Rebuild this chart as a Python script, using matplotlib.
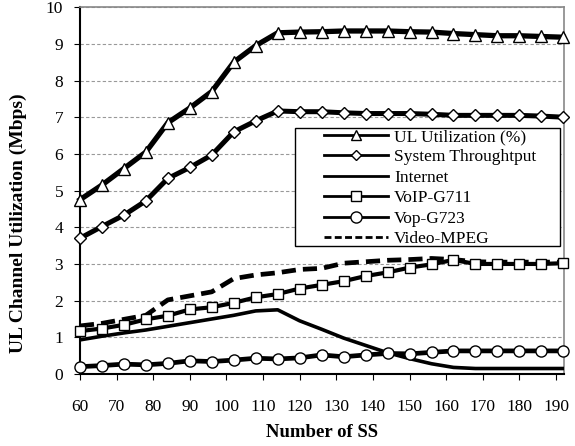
import matplotlib
matplotlib.use("Agg")
from matplotlib import pyplot as plt
from matplotlib.lines import Line2D
from matplotlib.patches import Rectangle

numSS = [60, 66, 72, 78, 84, 90, 96, 102, 108, 114, 120, 126,
         132, 138, 144, 150, 156, 162, 168, 174, 180, 186, 192]

ulUtilization = [4.75, 5.15, 5.6, 6.05, 6.85, 7.25, 7.7, 8.5, 8.95, 9.3, 9.32, 9.33,
                 9.35, 9.35, 9.35, 9.33, 9.32, 9.28, 9.25, 9.22, 9.22, 9.2, 9.18]
systemThroughput = [3.7, 4.02, 4.33, 4.72, 5.33, 5.63, 5.97, 6.6, 6.9, 7.17, 7.15, 7.15,
                    7.12, 7.1, 7.1, 7.1, 7.08, 7.05, 7.05, 7.05, 7.05, 7.03, 7.0]
internet = [0.93, 1.03, 1.12, 1.2, 1.3, 1.4, 1.5, 1.6, 1.72, 1.75, 1.45, 1.22,
            0.98, 0.78, 0.58, 0.42, 0.28, 0.18, 0.15, 0.15, 0.15, 0.15, 0.15]
voipG711 = [1.17, 1.24, 1.34, 1.49, 1.59, 1.76, 1.82, 1.94, 2.09, 2.18, 2.33, 2.43,
            2.53, 2.67, 2.77, 2.9, 2.99, 3.11, 3.0, 3.0, 3.0, 3.0, 3.02]
vopG723 = [0.2, 0.23, 0.27, 0.25, 0.29, 0.36, 0.34, 0.38, 0.43, 0.41, 0.44, 0.52,
           0.47, 0.52, 0.56, 0.55, 0.59, 0.63, 0.63, 0.63, 0.63, 0.63, 0.63]
videoMPEG = [1.31, 1.38, 1.49, 1.6, 2.02, 2.13, 2.24, 2.6, 2.7, 2.76, 2.85, 2.88,
             3.02, 3.06, 3.1, 3.12, 3.15, 3.12, 3.06, 3.05, 3.05, 3.05, 3.05]

labels = ['UL Utilization (%)', 'System Throughtput', 'Internet',
          'VoIP-G711', 'Vop-G723', 'Video-MPEG']

plt.rcParams['font.family'] = ['Liberation Serif', 'DejaVu Serif']

fig = plt.figure(figsize=(5.75, 4.46), dpi=100)
ax = fig.add_axes([0.139, 0.1614, 0.842, 0.8226])

mk = dict(markerfacecolor='white', markeredgecolor='black', markeredgewidth=1.0, clip_on=False)

ax.plot(numSS, videoMPEG, color='black', linewidth=3.4, linestyle=(0, (3.0, 1.5)), zorder=3)
ax.plot(numSS, internet, color='black', linewidth=2.6, zorder=3)
ax.plot(numSS, vopG723, color='black', linewidth=3.4, marker='o', markersize=8, zorder=3, **mk)
ax.plot(numSS, voipG711, color='black', linewidth=3.0, marker='s', markersize=7.5, zorder=3, **mk)
ax.plot(numSS, systemThroughput, color='black', linewidth=3.6, marker='D', markersize=6, zorder=3, **mk)
ax.plot(numSS, ulUtilization, color='black', linewidth=3.8, marker='^', markersize=8.5, zorder=3, **mk)

ax.set_xlim(60, 192.2)
ax.set_ylim(0, 10)
ax.set_xticks(range(60, 191, 10))
ax.set_yticks(range(0, 11))
ax.tick_params(axis='x', direction='out', length=4, pad=14, labelsize=12.5)
ax.tick_params(axis='y', direction='out', length=4, pad=8, labelsize=12.5)
ax.grid(axis='y', color='#999999', linestyle=(0, (3, 2)), linewidth=0.8)
ax.set_axisbelow(True)

for side in ['top', 'right']:
    ax.spines[side].set_color('#888888')
    ax.spines[side].set_linewidth(1.2)
for side in ['left', 'bottom']:
    ax.spines[side].set_color('black')
    ax.spines[side].set_linewidth(1.5)

ax.set_xlabel('Number of SS', fontsize=13.5, fontweight='bold')
ax.set_ylabel('UL Channel Utilization (Mbps)', fontsize=14, fontweight='bold')
ax.xaxis.set_label_coords(0.5, -0.135)
ax.yaxis.set_label_coords(-0.11, 0.41)

# legend box drawn separately so the handles can sit further in
ax.add_patch(Rectangle((0.444, 0.349), 0.548, 0.321, transform=ax.transAxes,
                       facecolor='white', edgecolor='black', linewidth=1.0, zorder=4))

handles = [
    Line2D([], [], color='black', linewidth=2.0, marker='^', markersize=6.5, markerfacecolor='white', markeredgecolor='black'),
    Line2D([], [], color='black', linewidth=2.0, marker='D', markersize=5, markerfacecolor='white', markeredgecolor='black'),
    Line2D([], [], color='black', linewidth=2.0),
    Line2D([], [], color='black', linewidth=2.0, marker='s', markersize=7, markerfacecolor='white', markeredgecolor='black'),
    Line2D([], [], color='black', linewidth=2.0, marker='o', markersize=8, markerfacecolor='white', markeredgecolor='black'),
    Line2D([], [], color='black', linewidth=2.0, linestyle=(0, (2.5, 1.2))),
]
leg = ax.legend(handles, labels, loc='upper left', bbox_to_anchor=(0.5, 0.673),
                frameon=False, fontsize=12.5, handlelength=3.7, handletextpad=0.35,
                labelspacing=0.25, borderaxespad=0, borderpad=0.1)
leg.set_zorder(5)

fig.savefig('out.png', dpi=100)
